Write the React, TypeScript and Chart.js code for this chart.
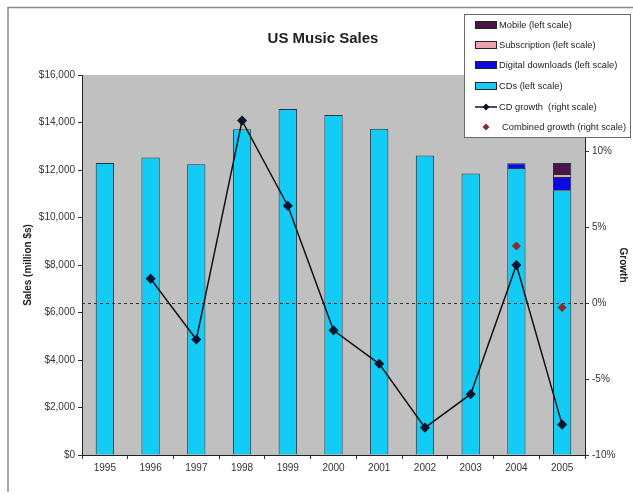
import React, { useEffect, useRef } from "react";
import { Chart, registerables } from "chart.js";

Chart.register(...registerables);

const years = ["1995", "1996", "1997", "1998", "1999", "2000", "2001", "2002", "2003", "2004", "2005"];
const cdSales = [12300, 12530, 12240, 13720, 14570, 14320, 13740, 12610, 11850, 12080, 11150];
const digitalDownloads = [null, null, null, null, null, null, null, null, null, 200, 560];
const subscription = [null, null, null, null, null, null, null, null, null, null, 120];
const mobile = [null, null, null, null, null, null, null, null, null, null, 460];
const cdGrowth = [null, 1.6, -2.4, 12.0, 6.4, -1.8, -4.0, -8.2, -6.0, 2.5, -8.0];
const combinedGrowth = [null, null, null, null, null, null, null, null, null, 3.75, -0.3];

const FONT = '"Liberation Sans", Arial, sans-serif';
const C_CD = "#12CCF6";
const C_DL = "#0A0AE0";
const C_SUB = "#F0A0AA";
const C_MOB = "#4A1548";
const C_LINE = "#0A1530";
const C_COMB = "#8E2A2E";
const C_EDGE = "#123848";

const legendItems = [
  { label: "Mobile (left scale)", kind: "box", color: C_MOB },
  { label: "Subscription (left scale)", kind: "box", color: C_SUB },
  { label: "Digital downloads (left scale)", kind: "box", color: C_DL },
  { label: "CDs (left scale)", kind: "box", color: C_CD },
  { label: "CD growth  (right scale)", kind: "line", color: C_LINE },
  { label: "Combined growth (right scale)", kind: "dot", color: C_COMB },
];

function diamond(ctx: CanvasRenderingContext2D, x: number, y: number, r: number, color: string) {
  ctx.beginPath();
  ctx.moveTo(x, y - r);
  ctx.lineTo(x + r, y);
  ctx.lineTo(x, y + r);
  ctx.lineTo(x - r, y);
  ctx.closePath();
  ctx.fillStyle = color;
  ctx.fill();
}

const decor = {
  id: "decor",
  beforeDraw(chart: any) {
    const { ctx, chartArea: a, width, height } = chart;
    ctx.save();
    ctx.fillStyle = "#ffffff";
    ctx.fillRect(0, 0, width, height);
    ctx.strokeStyle = "#8a8a8a";
    ctx.lineWidth = 1.5;
    ctx.beginPath();
    ctx.moveTo(8, height - 3);
    ctx.lineTo(8, 7.5);
    ctx.lineTo(width, 7.5);
    ctx.stroke();
    ctx.fillStyle = "#C0C0C0";
    ctx.fillRect(a.left, a.top, a.right - a.left, a.bottom - a.top);
    ctx.restore();
  },
  beforeDatasetDraw(chart: any, args: any) {
    if (args.index !== 4) return;
    const { ctx, chartArea: a } = chart;
    const y = Math.round(chart.scales.y2.getPixelForValue(0)) + 0.5;
    ctx.save();
    ctx.strokeStyle = "#333333";
    ctx.lineWidth = 1;
    ctx.setLineDash([3, 3]);
    ctx.beginPath();
    ctx.moveTo(a.left, y);
    ctx.lineTo(a.right, y);
    ctx.stroke();
    ctx.restore();
  },
  afterDraw(chart: any) {
    const { ctx } = chart;
    ctx.save();
    // title
    ctx.fillStyle = "#222222";
    ctx.font = `bold 15px ${FONT}`;
    ctx.textAlign = "center";
    ctx.textBaseline = "middle";
    ctx.fillText("US Music Sales", 323, 39);
    // legend box
    const bx = 464, by = 14, bw = 166, bh = 123;
    ctx.fillStyle = "#ffffff";
    ctx.fillRect(bx, by, bw, bh);
    ctx.strokeStyle = "#6a6a6a";
    ctx.lineWidth = 1;
    ctx.strokeRect(bx + 0.5, by + 0.5, bw, bh);
    const ys = [25, 45, 65, 86, 107, 127];
    ctx.font = `9.3px ${FONT}`;
    ctx.textAlign = "left";
    legendItems.forEach((it, i) => {
      const y = ys[i];
      if (it.kind === "box") {
        ctx.fillStyle = it.color;
        ctx.fillRect(475, y - 4, 22, 8);
        ctx.strokeStyle = "#222";
        ctx.strokeRect(475.5, y - 3.5, 21, 7);
      } else if (it.kind === "line") {
        ctx.strokeStyle = it.color;
        ctx.lineWidth = 1.5;
        ctx.beginPath();
        ctx.moveTo(475, y);
        ctx.lineTo(497, y);
        ctx.stroke();
        ctx.lineWidth = 1;
        diamond(ctx, 486, y, 3.5, it.color);
      } else {
        diamond(ctx, 486, y, 3.5, it.color);
      }
      ctx.fillStyle = "#222222";
      ctx.fillText(it.label, it.kind === "dot" ? 502 : 499, y + 0.5);
    });
    ctx.restore();
  },
};

export default function App() {
  const ref = useRef<HTMLCanvasElement>(null);
  useEffect(() => {
    document.body.style.margin = "0";
    const barBase = {
      type: "bar" as const,
      yAxisID: "y",
      borderColor: C_EDGE,
      borderWidth: 1,
      barPercentage: 0.4,
      categoryPercentage: 1,
      stack: "sales",
      order: 1,
    };
    const chart = new Chart(ref.current!, {
      type: "bar",
      data: {
        labels: years,
        datasets: [
          { ...barBase, label: "CDs (left scale)", data: cdSales, backgroundColor: C_CD },
          { ...barBase, label: "Digital downloads (left scale)", data: digitalDownloads as any, backgroundColor: C_DL },
          { ...barBase, label: "Subscription (left scale)", data: subscription as any, backgroundColor: C_SUB },
          { ...barBase, label: "Mobile (left scale)", data: mobile as any, backgroundColor: C_MOB },
          {
            type: "line" as const,
            label: "CD growth  (right scale)",
            data: cdGrowth as any,
            yAxisID: "y2",
            borderColor: "#111111",
            borderWidth: 1.5,
            pointStyle: "rectRot",
            pointRadius: 4,
            pointBackgroundColor: C_LINE,
            pointBorderColor: C_LINE,
            spanGaps: false,
            tension: 0,
            order: 0,
          } as any,
          {
            type: "line" as const,
            label: "Combined growth (right scale)",
            data: combinedGrowth as any,
            yAxisID: "y2",
            showLine: false,
            pointStyle: "rectRot",
            pointRadius: 4,
            pointBackgroundColor: C_COMB,
            pointBorderColor: C_COMB,
            order: -1,
          } as any,
        ],
      },
      options: {
        animation: false,
        responsive: false,
        events: [],
        layout: { padding: { left: 18, right: 0, top: 75, bottom: 10 } },
        plugins: {
          legend: { display: false },
          title: { display: false },
          tooltip: { enabled: false },
        },
        scales: {
          x: {
            stacked: true,
            offset: true,
            afterFit: (s: any) => { s.height = 30; },
            grid: { display: true, drawOnChartArea: false, offset: true, tickLength: 4, color: "#333333" },
            border: { color: "#222222", width: 1 },
            ticks: { color: "#333333", font: { family: FONT, size: 10 }, padding: 3, maxRotation: 0 },
          },
          y: {
            stacked: true,
            position: "left",
            min: 0,
            max: 16000,
            afterFit: (s: any) => { s.width = 64; },
            grid: { drawOnChartArea: false, tickLength: 4, color: "#333333" },
            border: { color: "#222222", width: 1 },
            ticks: {
              stepSize: 2000,
              color: "#333333",
              font: { family: FONT, size: 10 },
              padding: 3,
              callback: (v: any) => "$" + Number(v).toLocaleString("en-US"),
            },
            title: {
              display: true,
              text: "Sales (million $s)",
              color: "#222222",
              font: { family: FONT, size: 10, weight: "bold" },
            },
          },
          y2: {
            stacked: false,
            position: "right",
            min: -10,
            max: 15,
            afterFit: (s: any) => { s.width = 48; },
            grid: { drawOnChartArea: false, tickLength: 4, color: "#333333" },
            border: { color: "#222222", width: 1 },
            ticks: {
              stepSize: 5,
              color: "#333333",
              font: { family: FONT, size: 10 },
              padding: 3,
              callback: (v: any) => v + "%",
            },
            title: {
              display: true,
              text: "Growth",
              color: "#222222",
              font: { family: FONT, size: 10, weight: "bold" },
            },
          },
        },
      } as any,
      plugins: [decor],
    });
    return () => chart.destroy();
  }, []);
  return (
    <div style={{ position: "absolute", left: 0, top: 0, width: 633, height: 495 }}>
      <canvas ref={ref} width={633} height={495} style={{ display: "block" }} />
    </div>
  );
}
